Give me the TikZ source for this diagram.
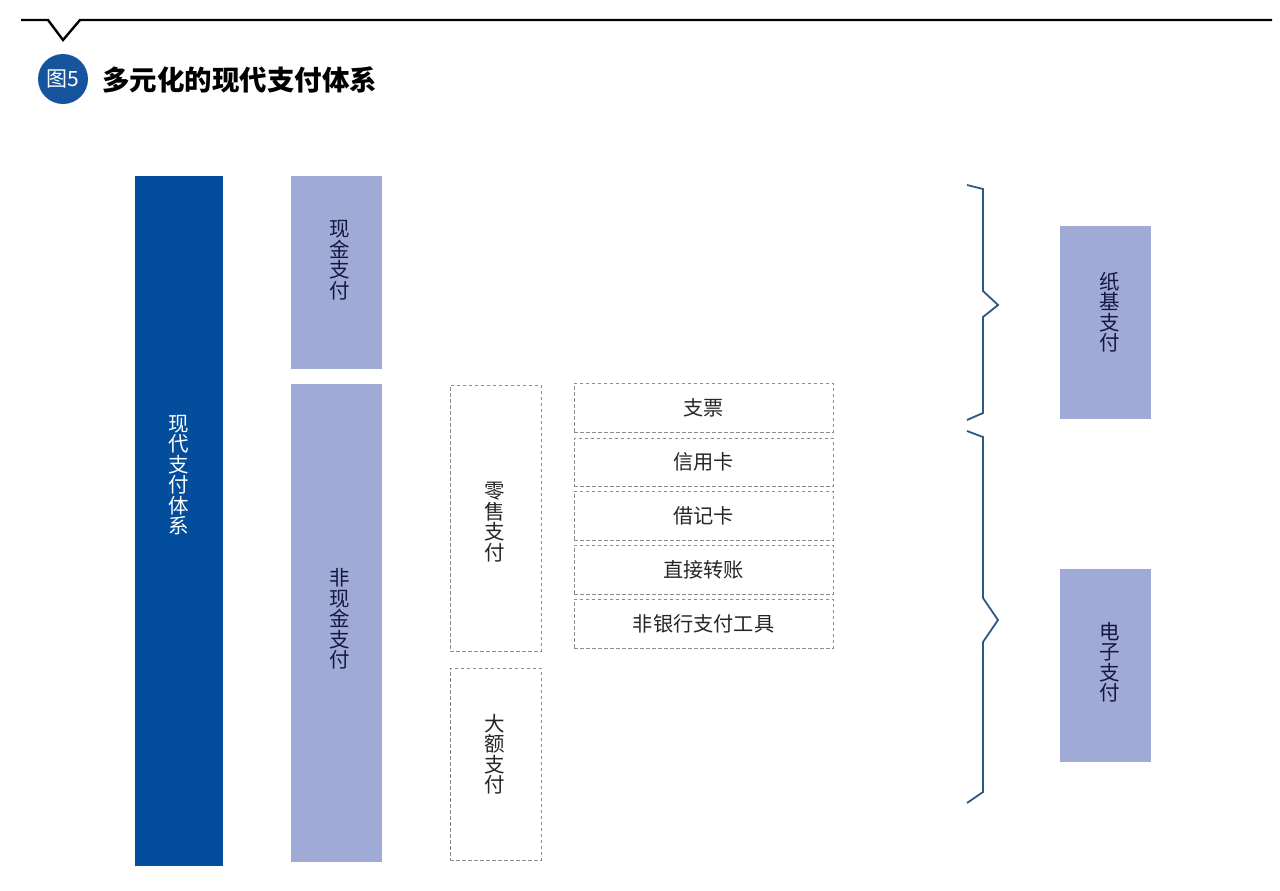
\documentclass[tikz,border=0pt]{standalone}
\usepackage{fontspec}
\newfontfamily\cjk{Noto Sans CJK SC}
\definecolor{darkblue}{RGB}{2,77,156}
\definecolor{lightblue}{RGB}{160,170,214}
\definecolor{circblue}{RGB}{22,84,158}
\definecolor{bracecol}{RGB}{44,88,132}
\definecolor{navytext}{RGB}{20,24,60}
\definecolor{dashgray}{RGB}{140,140,140}
\tikzset{
  darkbox/.style={fill=darkblue, draw=none, inner sep=0pt},
  lightbox/.style={fill=lightblue, draw=none, inner sep=0pt},
  dashbox/.style={draw=dashgray, line width=0.8pt, dash pattern=on 3.5pt off 2.5pt, inner sep=0pt},
  vtext/.style={font=\cjk\fontsize{20.5}{20.5}\selectfont, align=center, inner sep=0pt},
  htext/.style={font=\cjk\fontsize{20.2}{21}\selectfont, text=black!85},
  bracestyle/.style={draw=bracecol, line width=1.8pt, line join=miter},
}
\begin{document}
\begin{tikzpicture}[x=1pt,y=-1pt]
\useasboundingbox (0,0) rectangle (1280,891);
\fill[white] (0,0) rectangle (1280,891);
% header
\draw[line width=2.4pt, black] (21,20) -- (48,20) -- (63,40) -- (80,20) -- (1272,20);
\node[circle, fill=circblue, minimum size=50pt, inner sep=0pt, text=white, font=\cjk\fontsize{21}{22}\selectfont] (fig) at (63,79) {图5};
\node[anchor=west, inner sep=0pt, font=\cjk\bfseries\fontsize{27.5}{29}\selectfont] (title) at (102,80) {多元化的现代支付体系};
% main boxes
\node[darkbox, minimum width=88pt, minimum height=690pt] (sys) at (179,521) {};
\node[vtext, text=white] (tsys) at (179,475) {现\\代\\支\\付\\体\\系};
\node[lightbox, minimum width=91pt, minimum height=193pt] (cash) at (336.5,272.5) {};
\node[vtext, text=navytext] (tcash) at (340,260) {现\\金\\支\\付};
\node[lightbox, minimum width=91pt, minimum height=478pt] (noncash) at (336.5,623) {};
\node[vtext, text=navytext] (tnoncash) at (340,619) {非\\现\\金\\支\\付};
% dashed middle
\node[dashbox, minimum width=91pt, minimum height=266pt] (retail) at (495.5,518) {};
\node[vtext, text=black!85] (tretail) at (495,522) {零\\售\\支\\付};
\node[dashbox, minimum width=91pt, minimum height=192pt] (large) at (495.5,764) {};
\node[vtext, text=black!85] (tlarge) at (495,754) {大\\额\\支\\付};
% instruments
\node[dashbox, htext, minimum width=259pt, minimum height=49pt] (cheque) at (703.5,407.5) {支票};
\node[dashbox, htext, minimum width=259pt, minimum height=48pt] (credit) at (703.5,462) {信用卡};
\node[dashbox, htext, minimum width=259pt, minimum height=49pt] (debit) at (703.5,515.5) {借记卡};
\node[dashbox, htext, minimum width=259pt, minimum height=49pt] (transfer) at (703.5,569.5) {直接转账};
\node[dashbox, htext, minimum width=259pt, minimum height=49pt] (nonbank) at (703.5,623.5) {非银行支付工具};
% braces
\draw[bracestyle] (967,185) -- (983,189) -- (983,291) -- (998,305) -- (983,317) -- (983,413) -- (967,420);
\draw[bracestyle] (967,431) -- (983,437) -- (983,598) -- (998,620) -- (983,642) -- (983,792) -- (967,803);
% right boxes
\node[lightbox, minimum width=91pt, minimum height=193pt] (paper) at (1105.5,322) {};
\node[vtext, text=navytext] (tpaper) at (1110,312) {纸\\基\\支\\付};
\node[lightbox, minimum width=91pt, minimum height=193pt] (elec) at (1105.5,665) {};
\node[vtext, text=navytext] (telec) at (1110,662) {电\\子\\支\\付};
\end{tikzpicture}
\end{document}
